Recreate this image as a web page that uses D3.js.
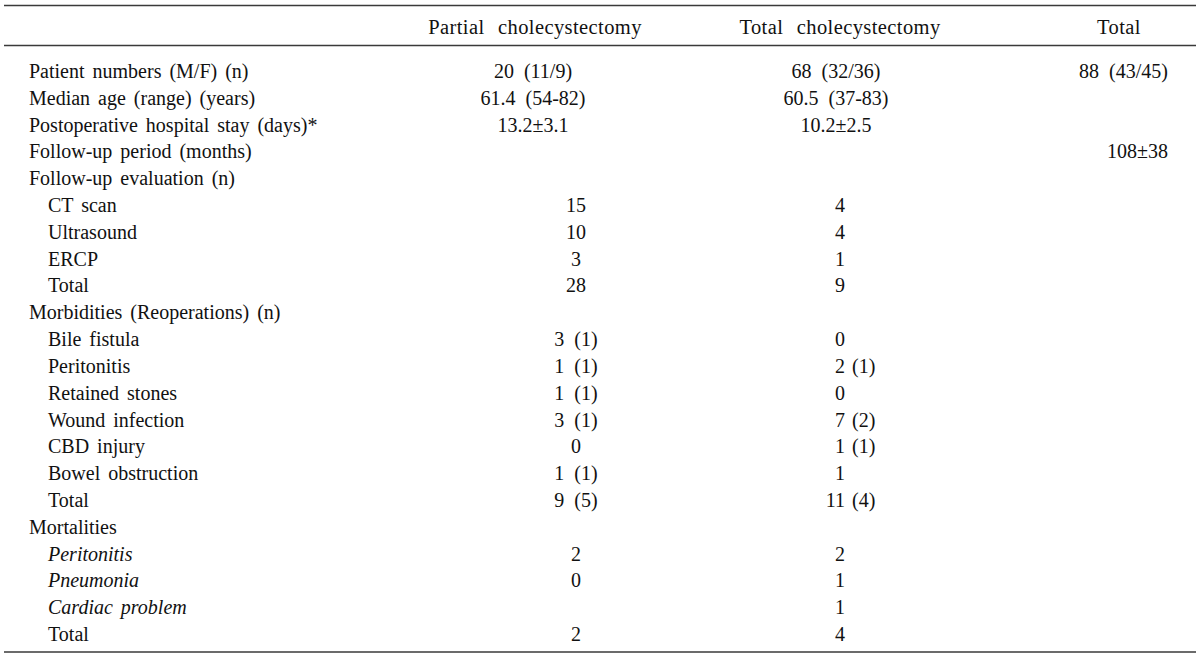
<!DOCTYPE html>
<html>
<head>
<meta charset="utf-8">
<script src="https://cdn.jsdelivr.net/npm/d3@7"></script>
<style>
  html, body { margin: 0; padding: 0; background: #fff; }
  svg { display: block; }
  text { font-family: "Liberation Serif", "Times New Roman", serif; fill: #111; }
</style>
</head>
<body>
<svg id="chart" width="1200" height="658"></svg>
<script>
// ---- data ----
const headers = ["Partial cholecystectomy", "Total cholecystectomy", "Total"];
const rowLabels = [
  "Patient numbers (M/F) (n)",
  "Median age (range) (years)",
  "Postoperative hospital stay (days)*",
  "Follow-up period (months)",
  "Follow-up evaluation (n)",
  "CT scan",
  "Ultrasound",
  "ERCP",
  "Total",
  "Morbidities (Reoperations) (n)",
  "Bile fistula",
  "Peritonitis",
  "Retained stones",
  "Wound infection",
  "CBD injury",
  "Bowel obstruction",
  "Total",
  "Mortalities",
  "Peritonitis",
  "Pneumonia",
  "Cardiac problem",
  "Total"
];
const rowIndent = [0,0,0,0,0,1,1,1,1,0,1,1,1,1,1,1,1,0,1,1,1,1];
const rowItalic = [0,0,0,0,0,0,0,0,0,0,0,0,0,0,0,0,0,0,1,1,1,0];
const rowGroup  = ["summary","summary","summary","summary","head","count","count","count","count","head","count","count","count","count","count","count","count","head","count","count","count","count"];
const partialValues = ["20 (11/9)","61.4 (54-82)","13.2±3.1","","","15","10","3","28","","3 (1)","1 (1)","1 (1)","3 (1)","0","1 (1)","9 (5)","","2","0","","2"];
const totalCholValues = ["68 (32/36)","60.5 (37-83)","10.2±2.5","","","4","4","1","9","","0","2 (1)","0","7 (2)","1 (1)","1","11 (4)","","2","1","1","4"];
const overallValues = ["88 (43/45)","","","108±38","","","","","","","","","","","","","","","","","",""];

// ---- layout ----
const W = 1200, H = 658;
const svg = d3.select("#chart");
const fontSize = 20;

const y = d3.scalePoint()
  .domain(d3.range(rowLabels.length))
  .range([78, 641]);

const headerX = d3.scaleOrdinal().domain(headers).range([535, 840, 1119]);

// top rule, header rule, bottom rule
const rules = [5.5, 45.5, 652];
svg.selectAll("line.rule").data(rules).enter().append("line")
  .attr("class","rule")
  .attr("x1", 4).attr("x2", W - 4)
  .attr("y1", d => d).attr("y2", d => d)
  .attr("stroke", "#3a3a3a").attr("stroke-width", 1.6);

svg.selectAll("text.header").data(headers).enter().append("text")
  .attr("class","header")
  .attr("x", d => headerX(d))
  .attr("y", 34)
  .attr("text-anchor","middle")
  .attr("font-size", 20.5)
  .style("letter-spacing","0.4px")
  .style("word-spacing","8px")
  .text(d => d);

const rows = svg.selectAll("g.row").data(rowLabels).enter().append("g").attr("class","row");

rows.append("text")
  .attr("x", (d,i) => rowIndent[i] ? 48 : 29)
  .attr("y", (d,i) => y(i))
  .attr("font-size", fontSize)
  .attr("font-style", (d,i) => rowItalic[i] ? "italic" : "normal")
  .style("word-spacing","3px")
  .text(d => d);

// column anchors per group
const colAnchor = {
  partial: { summary: 533, count: 576 },
  totalChol: { summary: 836, count: 845 },
  overall: { summary: 1168, count: 1168 }
};

function drawCol(values, key){
  rows.each(function(d,i){
    const v = values[i];
    if (!v) return;
    const g = d3.select(this);
    const grp = rowGroup[i] === "count" ? "count" : "summary";
    const x = colAnchor[key][grp];
    if (key === "totalChol" && grp === "count") {
      const parts = v.split(" (");
      g.append("text").attr("x", x).attr("y", y(i)).attr("text-anchor","end")
        .attr("font-size", fontSize).text(parts[0]);
      if (parts[1]) g.append("text").attr("x", x + 7).attr("y", y(i))
        .attr("font-size", fontSize).text("(" + parts[1]);
    } else {
      g.append("text").attr("x", x).attr("y", y(i))
        .attr("text-anchor", key === "overall" ? "end" : "middle")
        .attr("font-size", fontSize).style("word-spacing","5px").text(v);
    }
  });
}
drawCol(partialValues, "partial");
drawCol(totalCholValues, "totalChol");
drawCol(overallValues, "overall");
</script>
</body>
</html>
